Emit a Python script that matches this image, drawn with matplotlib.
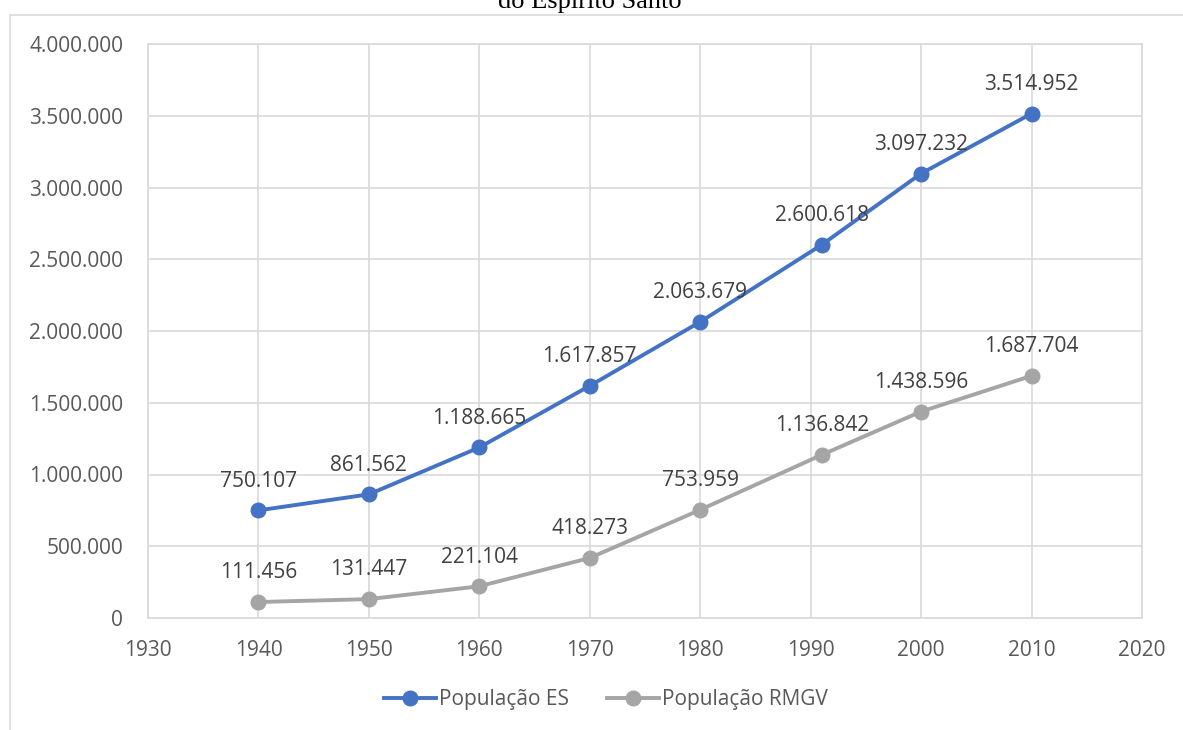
import matplotlib
matplotlib.use("Agg")
import matplotlib.pyplot as plt
from matplotlib.ticker import FuncFormatter, MultipleLocator
from matplotlib.patches import Rectangle

years_es = [1940, 1950, 1960, 1970, 1980, 1991, 2000, 2010]
pop_es = [750107, 861562, 1188665, 1617857, 2063679, 2600618, 3097232, 3514952]
years_rmgv = [1940, 1950, 1960, 1970, 1980, 1991, 2000, 2010]
pop_rmgv = [111456, 131447, 221104, 418273, 753959, 1136842, 1438596, 1687704]
series_names = ["População ES", "População RMGV"]
title_text = "do Espírito Santo"

BLUE = "#4472C4"
GRAY = "#A5A5A5"
TICK_C = "#595959"
LABEL_C = "#404040"
GRID_C = "#D9D9D9"
FS = 15


def br_fmt(v):
    return f"{int(round(v)):,}".replace(",", ".")


plt.rcParams["font.family"] = ["Open Sans", "DejaVu Sans"]

fig = plt.figure(figsize=(11.83, 7.3), dpi=100)
W, H = 1183, 730
ax = fig.add_axes([148 / W, 1 - 618 / H, (1142 - 148) / W, (618 - 44) / H])

# outer chart frame
fig.patches.append(Rectangle((10 / W, -0.05), 1.2, (1 - 15 / H) + 0.05,
                             transform=fig.transFigure, fill=False,
                             edgecolor="#D9D9D9", linewidth=1.2))

fig.text(590 / W, 1 - 2 / H, title_text, ha="center", va="center",
         fontsize=19, family="Liberation Serif", color="black")

ax.plot(years_es, pop_es, color=BLUE, lw=2.8, marker="o", ms=10.5,
        label=series_names[0], zorder=3)
ax.plot(years_rmgv, pop_rmgv, color=GRAY, lw=2.8, marker="o", ms=10.5,
        label=series_names[1], zorder=3)

for x, y in zip(years_es, pop_es):
    ax.annotate(br_fmt(y), (x, y), xytext=(0, 21), textcoords="offset points",
                ha="center", va="center", fontsize=FS, color=LABEL_C)
for x, y in zip(years_rmgv, pop_rmgv):
    ax.annotate(br_fmt(y), (x, y), xytext=(0, 21), textcoords="offset points",
                ha="center", va="center", fontsize=FS, color=LABEL_C)

ax.set_xlim(1930, 2020)
ax.set_ylim(0, 4000000)
ax.xaxis.set_major_locator(MultipleLocator(10))
ax.yaxis.set_major_locator(MultipleLocator(500000))
ax.yaxis.set_major_formatter(FuncFormatter(lambda v, p: br_fmt(v)))
ax.grid(True, color=GRID_C, lw=1.2)
ax.set_axisbelow(True)
for s in ax.spines.values():
    s.set_color(GRID_C)
    s.set_linewidth(1.2)
ax.tick_params(length=0, labelsize=FS, labelcolor=TICK_C)
ax.tick_params(axis="x", pad=16)
ax.tick_params(axis="y", pad=18)

leg = fig.legend(loc="center", bbox_to_anchor=(606 / W, 1 - 700 / H), ncol=2,
                 frameon=False, fontsize=FS, handlelength=2.5,
                 columnspacing=1.8, handletextpad=0.15)
for t in leg.get_texts():
    t.set_color(TICK_C)

fig.savefig("out.png", dpi=100)
